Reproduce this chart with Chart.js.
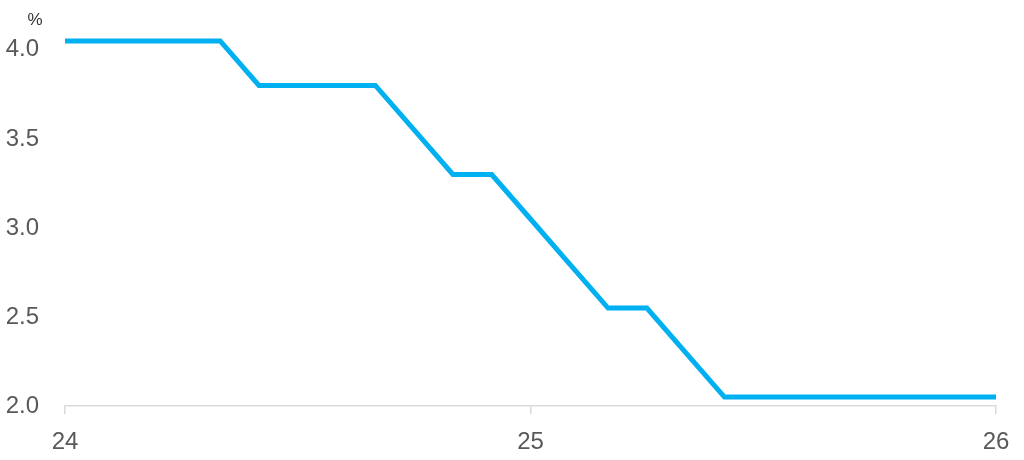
<!DOCTYPE html>
<html>
<head>
<meta charset="utf-8">
<script src="https://cdn.jsdelivr.net/npm/chart.js@4"></script>
<style>
  html, body { margin: 0; padding: 0; background: #fff; }
  #wrap { width: 1024px; height: 460px; }
</style>
</head>
<body>
<div id="wrap"><canvas id="rateChart"></canvas></div>
<script>
// Data (monthly steps, month 0 = start of 24)
const months = [0, 1, 2, 3, 4, 5, 6, 7, 8, 9, 10, 11, 12, 13, 14, 15, 16, 17, 18, 19, 20, 21, 22, 23, 24];
const rates = [4.05, 4.05, 4.05, 4.05, 4.05, 3.80, 3.80, 3.80, 3.80, 3.55, 3.30, 3.30, 3.05, 2.80, 2.55, 2.55, 2.30, 2.05, 2.05, 2.05, 2.05, 2.05, 2.05, 2.05, 2.05];
const xTickValues = [0, 12, 24];
const xTickLabels = ['24', '25', '26'];
const yTickValues = [2.0, 2.5, 3.0, 3.5, 4.0];
const unitLabel = '%';

Chart.defaults.font.family = '"Liberation Sans", Arial, sans-serif';

// Draw the unit label above the y axis
const unitPlugin = {
    id: 'unitLabel',
    afterDraw(chart) {
        const ctx = chart.ctx;
        ctx.save();
        ctx.font = '17px "Liberation Sans", Arial, sans-serif';
        ctx.fillStyle = '#333333';
        ctx.textAlign = 'center';
        ctx.textBaseline = 'middle';
        ctx.fillText(unitLabel, 35, 20);
        ctx.restore();
    }
};

const ctx = document.getElementById('rateChart').getContext('2d');
const rateChart = new Chart(ctx, {
    type: 'line',
    data: {
        datasets: [{
            data: months.map((m, i) => ({ x: m, y: rates[i] })),
            borderColor: '#00b0f0',
            borderWidth: 5,
            pointRadius: 0,
            tension: 0,
            fill: false,
            clip: false,
            borderJoinStyle: 'miter',
            borderCapStyle: 'butt'
        }]
    },
    options: {
        responsive: true,
        maintainAspectRatio: false,
        animation: false,
        layout: {
            padding: { top: 20, right: 28, left: 0, bottom: 0 }
        },
        plugins: {
            legend: { display: false },
            tooltip: { enabled: false }
        },
        scales: {
            x: {
                type: 'linear',
                min: 0,
                max: 24,
                afterBuildTicks: function(scale) {
                    scale.ticks = xTickValues.map(v => ({ value: v }));
                },
                afterFit: function(scale) {
                    scale.height = 54;
                },
                ticks: {
                    autoSkip: false,
                    maxRotation: 0,
                    padding: 14,
                    color: '#595959',
                    font: { size: 24 },
                    callback: function(value) {
                        const i = xTickValues.indexOf(value);
                        return i >= 0 ? xTickLabels[i] : '';
                    }
                },
                grid: {
                    drawOnChartArea: false,
                    drawTicks: true,
                    tickLength: 8,
                    color: '#d9d9d9',
                    lineWidth: 1.5
                },
                border: {
                    display: true,
                    color: '#d9d9d9',
                    width: 1.5
                }
            },
            y: {
                min: 2.0,
                max: 4.053,
                afterBuildTicks: function(scale) {
                    scale.ticks = yTickValues.map(v => ({ value: v }));
                },
                afterFit: function(scale) {
                    scale.width = 65;
                },
                ticks: {
                    padding: 26,
                    color: '#595959',
                    font: { size: 24 },
                    callback: function(value) {
                        return value.toFixed(1);
                    }
                },
                grid: { display: false, drawTicks: false },
                border: { display: false }
            }
        }
    },
    plugins: [unitPlugin]
});
</script>
</body>
</html>
